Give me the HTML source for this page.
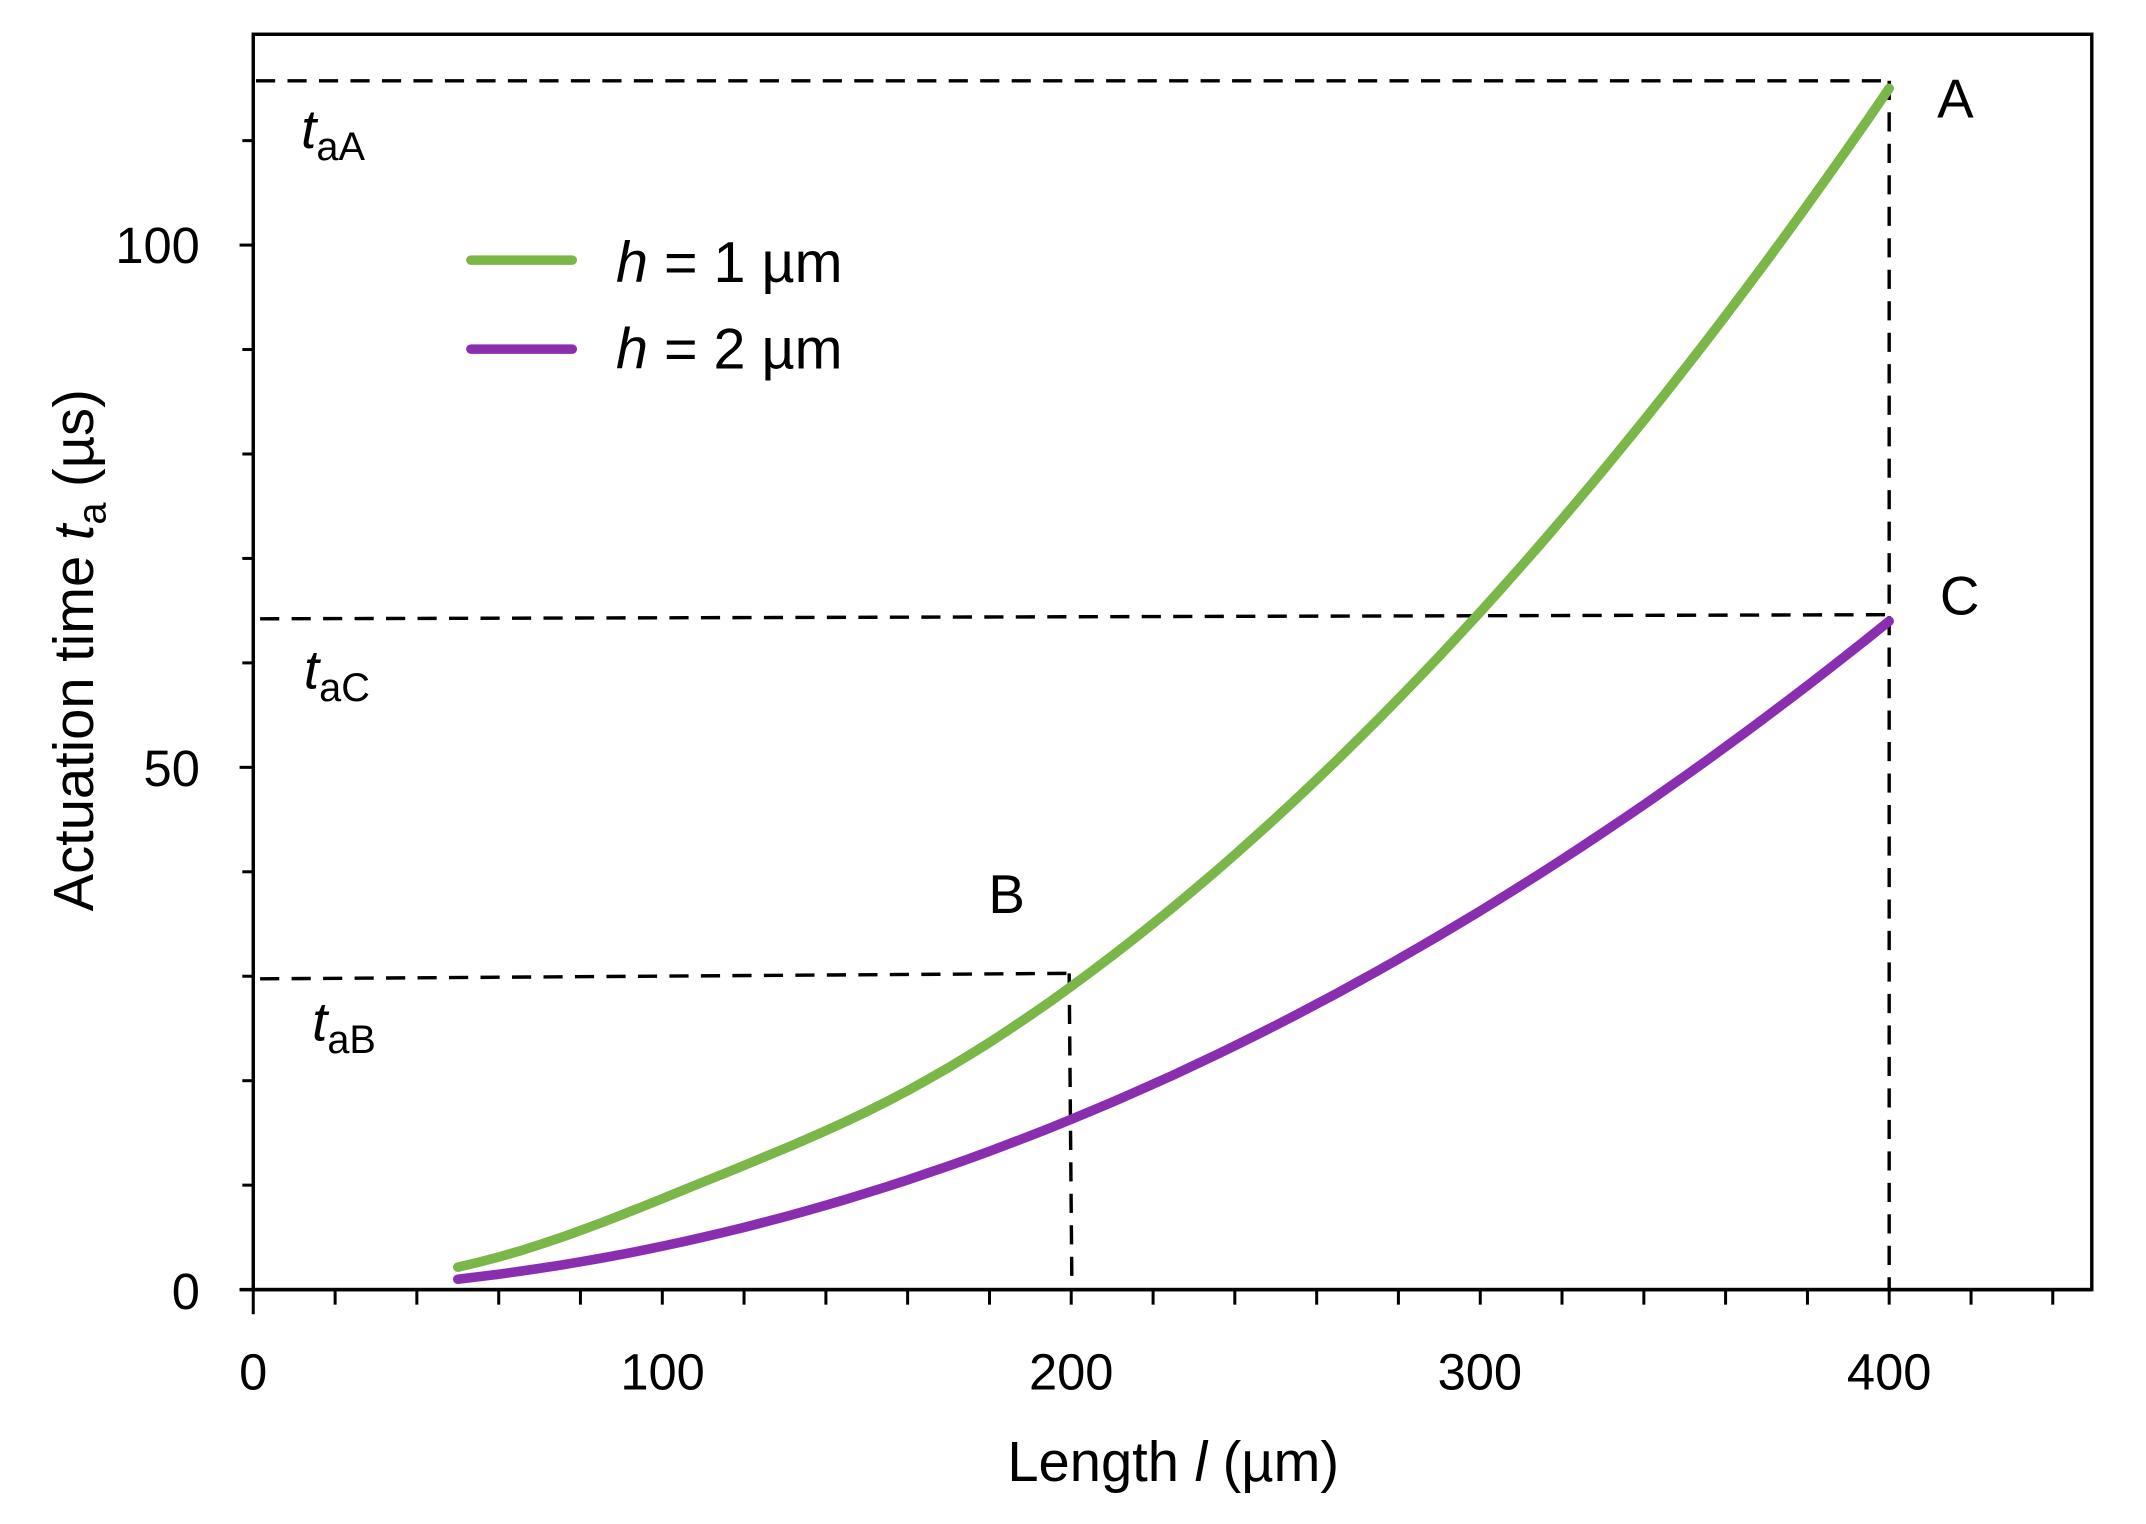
<!DOCTYPE html>
<html><head><meta charset="utf-8"><style>
html,body{margin:0;padding:0;background:#fff}
svg{display:block}
text{font-family:"Liberation Sans","DejaVu Sans",sans-serif;fill:#000}
</style></head><body>
<svg width="2146" height="1524" viewBox="0 0 1567.6 1113.2" xmlns="http://www.w3.org/2000/svg">
<rect x="185" y="25" width="1343" height="917" fill="none" stroke="#000" stroke-width="2.5"/>
<line x1="175" y1="942" x2="1528" y2="942" stroke="#000" stroke-width="2.5"/>
<g stroke="#000" stroke-width="2.2">
<line x1="175" y1="942" x2="185" y2="942"/><line x1="177" y1="865.7" x2="185" y2="865.7"/><line x1="177" y1="789.4" x2="185" y2="789.4"/><line x1="177" y1="713.1" x2="185" y2="713.1"/><line x1="177" y1="636.8" x2="185" y2="636.8"/><line x1="175" y1="560.5" x2="185" y2="560.5"/><line x1="177" y1="484.2" x2="185" y2="484.2"/><line x1="177" y1="407.9" x2="185" y2="407.9"/><line x1="177" y1="331.6" x2="185" y2="331.6"/><line x1="177" y1="255.3" x2="185" y2="255.3"/><line x1="175" y1="179" x2="185" y2="179"/><line x1="177" y1="102.7" x2="185" y2="102.7"/>
<line x1="185" y1="942" x2="185" y2="960"/><line x1="244.8" y1="942" x2="244.8" y2="953"/><line x1="304.5" y1="942" x2="304.5" y2="953"/><line x1="364.3" y1="942" x2="364.3" y2="953"/><line x1="424" y1="942" x2="424" y2="953"/><line x1="483.8" y1="942" x2="483.8" y2="953"/><line x1="543.5" y1="942" x2="543.5" y2="953"/><line x1="603.3" y1="942" x2="603.3" y2="953"/><line x1="663" y1="942" x2="663" y2="953"/><line x1="722.8" y1="942" x2="722.8" y2="953"/><line x1="782.5" y1="942" x2="782.5" y2="953"/><line x1="842.3" y1="942" x2="842.3" y2="953"/><line x1="902" y1="942" x2="902" y2="953"/><line x1="961.8" y1="942" x2="961.8" y2="953"/><line x1="1021.5" y1="942" x2="1021.5" y2="953"/><line x1="1081.3" y1="942" x2="1081.3" y2="953"/><line x1="1141" y1="942" x2="1141" y2="953"/><line x1="1200.8" y1="942" x2="1200.8" y2="953"/><line x1="1260.5" y1="942" x2="1260.5" y2="953"/><line x1="1320.3" y1="942" x2="1320.3" y2="953"/><line x1="1380" y1="942" x2="1380" y2="953"/><line x1="1439.8" y1="942" x2="1439.8" y2="953"/><line x1="1499.5" y1="942" x2="1499.5" y2="953"/>
</g>
<g font-size="37" text-anchor="end">
<text x="146" y="956">0</text><text x="146" y="574">50</text><text x="146" y="192">100</text>
</g>
<g font-size="37" text-anchor="middle">
<text x="185" y="1015">0</text><text x="484" y="1015">100</text><text x="782.5" y="1015">200</text><text x="1081" y="1015">300</text><text x="1380" y="1015">400</text>
</g>
<text x="857" y="1082" font-size="41" text-anchor="middle">Length <tspan font-style="italic">l</tspan> (µm)</text>
<text transform="translate(68,475) rotate(-90)" font-size="41" text-anchor="middle">Actuation time <tspan font-style="italic">t</tspan><tspan font-size="29" dy="9">a</tspan><tspan dy="-9"> (µs)</tspan></text>
<g stroke="#000" stroke-width="2.5" stroke-dasharray="14,9" fill="none">
<line x1="187" y1="59" x2="1380" y2="59"/>
<line x1="1380" y1="59" x2="1380" y2="942"/>
<line x1="190" y1="452" x2="1380" y2="449"/>
<line x1="190" y1="715" x2="781" y2="711"/>
<line x1="781" y1="711" x2="783" y2="942"/>
</g>
<polyline id="g" fill="none" stroke="#7ab648" stroke-width="7" stroke-linecap="round" stroke-linejoin="round" points=""/>
<polyline id="p" fill="none" stroke="#8a2eb0" stroke-width="7" stroke-linecap="round" stroke-linejoin="round" points=""/>
<line x1="344" y1="190" x2="418" y2="190" stroke="#7ab648" stroke-width="7" stroke-linecap="round"/>
<line x1="344" y1="255" x2="418" y2="255" stroke="#8a2eb0" stroke-width="7" stroke-linecap="round"/>
<text x="450" y="206" font-size="42"><tspan font-style="italic">h</tspan> = 1 µm</text>
<text x="450" y="269" font-size="42"><tspan font-style="italic">h</tspan> = 2 µm</text>
<text x="1415" y="86" font-size="40">A</text>
<text x="1417" y="449" font-size="40">C</text>
<text x="722" y="667" font-size="40">B</text>
<text x="220" y="108" font-size="40" font-style="italic">t<tspan font-style="normal" font-size="29" dy="9">aA</tspan></text>
<text x="222" y="503" font-size="40" font-style="italic">t<tspan font-style="normal" font-size="29" dy="9">aC</tspan></text>
<text x="228" y="760" font-size="40" font-style="italic">t<tspan font-style="normal" font-size="29" dy="9">aB</tspan></text>
</svg>
<script>
function X(v){return 185+v*2.9875}
function Y(v){return 942-v*7.63}
function build(id,f){var s=[];for(var l=50;l<=400;l+=5){s.push(X(l).toFixed(1)+","+Y(f(l)).toFixed(1))}document.getElementById(id).setAttribute("points",s.join(" "))}
build("g",function(l){var bump=1.4*Math.exp(-Math.pow((l-110)/45,2));return 7.125e-4*l*l+0.0025*l+bump});
build("p",function(l){return 3.9e-4*l*l+0.0045*l-1.5*Math.exp(-Math.pow((l-60)/30,2))*0+(-0.0000001*l*l*l)*0-0.0*l+(l<100?0:0)-0.2});
</script>
</body></html>
